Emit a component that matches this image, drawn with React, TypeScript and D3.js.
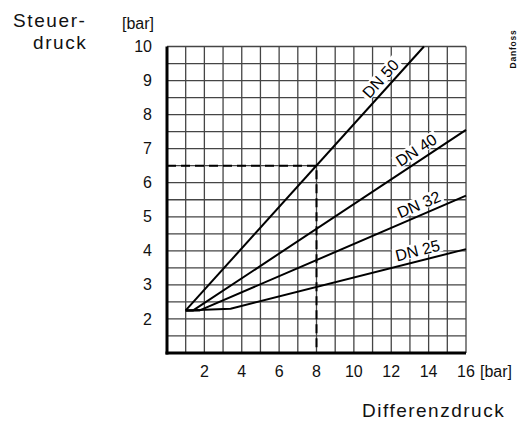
import React from 'react'
import * as d3 from 'd3'

// chart values
const xTicks = [2, 4, 6, 8, 10, 12, 14, 16]
const yTicks = [2, 3, 4, 5, 6, 7, 8, 9, 10]
const seriesNames = ['DN 50', 'DN 40', 'DN 32', 'DN 25']
const dn50: [number, number][] = [[1, 2.25], [13.75, 10]]
const dn40: [number, number][] = [[1, 2.25], [1.4, 2.25], [16, 7.55]]
const dn32: [number, number][] = [[1, 2.25], [1.75, 2.25], [16, 5.62]]
const dn25: [number, number][] = [[1, 2.25], [3.4, 2.3], [16, 4.05]]
const labelAt = [11.85, 13.65, 13.7, 13.55]
const readOff: [number, number] = [8, 6.5]

const W = 518
const H = 422
const margin = { top: 46.5, right: 52, bottom: 69, left: 167 }
const font = '"Liberation Sans", Arial, sans-serif'

const App: React.FC = () => {
  const innerW = W - margin.left - margin.right
  const innerH = H - margin.top - margin.bottom
  const x = d3.scaleLinear().domain([0, 16]).range([0, innerW])
  const y = d3.scaleLinear().domain([1, 10]).range([innerH, 0])
  const line = d3
    .line<[number, number]>()
    .x((d) => x(d[0]))
    .y((d) => y(d[1]))

  const allSeries = [dn50, dn40, dn32, dn25]
  const vGrid = d3.range(1, 17)
  const hGrid = d3.range(1.5, 10.01, 0.5)

  // position of each rotated label on its last segment
  const labels = allSeries.map((s, i) => {
    const a = s[s.length - 2]
    const b = s[s.length - 1]
    const lx = labelAt[i]
    const ly = a[1] + ((b[1] - a[1]) * (lx - a[0])) / (b[0] - a[0])
    const angle = (Math.atan2(y(b[1]) - y(a[1]), x(b[0]) - x(a[0])) * 180) / Math.PI
    return { name: seriesNames[i], px: x(lx), py: y(ly), angle }
  })

  return (
    <svg width={W} height={H} style={{ position: 'absolute', left: 0, top: 0, background: '#fff' }}>
      <g transform={`translate(${margin.left},${margin.top})`}>
        {/* grid */}
        {vGrid.map((v) => (
          <line key={'v' + v} x1={x(v)} x2={x(v)} y1={0} y2={innerH} stroke="#454545" strokeWidth={1.3} />
        ))}
        {hGrid.map((v) => (
          <line key={'h' + v} x1={0} x2={innerW} y1={y(v)} y2={y(v)} stroke="#454545" strokeWidth={1.3} />
        ))}

        {/* label backgrounds */}
        {labels.map((l) => (
          <rect
            key={'bg' + l.name}
            transform={`translate(${l.px},${l.py}) rotate(${l.angle})`}
            x={-25}
            y={-18}
            width={50}
            height={14}
            fill="#fff"
          />
        ))}

        {/* reading example */}
        <path
          d={`M${x(0)},${y(readOff[1])}H${x(readOff[0])}V${y(1)}`}
          fill="none"
          stroke="#000"
          strokeWidth={2}
          strokeDasharray="9,5"
        />

        {/* curves */}
        {allSeries.map((s, i) => (
          <path key={seriesNames[i]} d={line(s) ?? ''} fill="none" stroke="#000" strokeWidth={2} strokeLinejoin="round" />
        ))}

        {labels.map((l) => (
          <text
            key={'t' + l.name}
            transform={`translate(${l.px},${l.py}) rotate(${l.angle})`}
            y={-5}
            textAnchor="middle"
            fontFamily={font}
            fontSize={16}
            fill="#000"
          >
            {l.name}
          </text>
        ))}

        {/* axes */}
        <line x1={0} x2={0} y1={0} y2={innerH + 1.5} stroke="#000" strokeWidth={3} />
        <line x1={-1.5} x2={innerW} y1={innerH} y2={innerH} stroke="#000" strokeWidth={3} />

        {yTicks.map((t) => (
          <text
            key={'yt' + t}
            x={-15}
            y={y(t)}
            dy="0.35em"
            textAnchor="end"
            fontFamily={font}
            fontSize={16}
            fill="#111"
          >
            {t}
          </text>
        ))}
        {xTicks.map((t) => (
          <text
            key={'xt' + t}
            x={x(t)}
            y={innerH + 24}
            textAnchor="middle"
            fontFamily={font}
            fontSize={16}
            fill="#111"
          >
            {t}
          </text>
        ))}
        <text x={innerW + 14} y={innerH + 24} fontFamily={font} fontSize={16} fill="#111">
          [bar]
        </text>
        <text x={-45} y={-17.5} fontFamily={font} fontSize={16} fill="#111">
          [bar]
        </text>
      </g>

      {/* titles */}
      <text x={13} y={26.5} fontFamily={font} fontSize={19} letterSpacing={1.6} fill="#111">
        Steuer-
      </text>
      <text x={33} y={49} fontFamily={font} fontSize={19} letterSpacing={1.6} fill="#111">
        druck
      </text>
      <text x={362} y={416.5} fontFamily={font} fontSize={19} letterSpacing={1.5} fill="#111">
        Differenzdruck
      </text>
      <text
        transform="translate(516,49) rotate(-90)"
        textAnchor="middle"
        fontFamily={font}
        fontSize={8.5}
        fontWeight="bold"
        letterSpacing={0.8}
        fill="#111"
      >
        Danfoss
      </text>
    </svg>
  )
}

export default App
